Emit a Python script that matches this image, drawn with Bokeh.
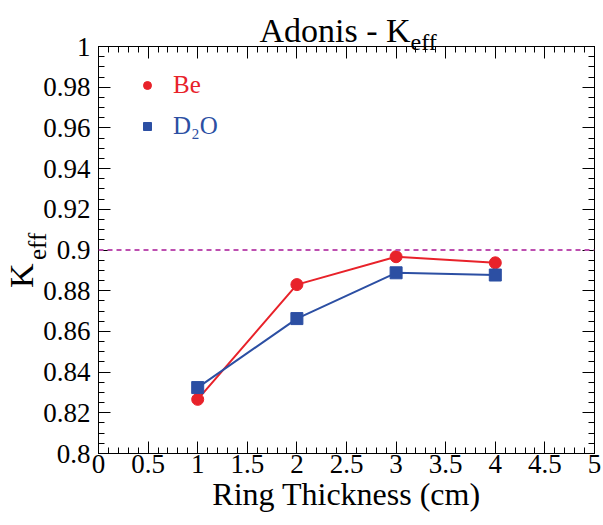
from bokeh.plotting import figure
from bokeh.models import (Range1d, LinearAxis, SingleIntervalTicker, FixedTicker,
                          CustomJSTickFormatter, Span, Title, Legend, LegendItem)
from bokeh.embed import file_html
from bokeh.resources import INLINE

# ---- data ----
thickness = [1, 2, 3, 4]
keff_be = [0.8266, 0.8830, 0.8967, 0.8937]
keff_d2o = [0.8324, 0.8663, 0.8888, 0.8877]
threshold = 0.9
x_min, x_max = 0, 5
y_min, y_max = 0.8, 1.0
x_tick_step = 0.5
y_tick_step = 0.02
series_names = ["Be", "D\u2082O"]
title_main, title_sub = "Adonis - K", "eff"
ylabel_main, ylabel_sub = "K", "eff"
ylabel_main_at, ylabel_sub_at = 0.8874, 0.9018   # where the y-label pieces sit
xlabel = "Ring Thickness (cm)"

FONT = "Liberation Serif"
RED = "#e8222a"
BLUE = "#2c4fa3"
MAGENTA = "#bd4fb0"

p = figure(width=603, height=525,
           x_range=Range1d(x_min, x_max), y_range=Range1d(y_min, y_max),
           output_backend="svg", toolbar_location=None,
           x_axis_location=None, y_axis_location=None,
           min_border_left=97, min_border_right=9,
           min_border_top=46, min_border_bottom=72)
p.grid.visible = False
p.outline_line_color = "black"
p.outline_line_width = 1
p.background_fill_color = "white"
p.border_fill_color = "white"

fmt = CustomJSTickFormatter(code="return String(Number(tick.toFixed(4)));")
blank = CustomJSTickFormatter(code="return '';")


def make_axis(step, nminor, labels):
    ax = LinearAxis(ticker=SingleIntervalTicker(interval=step, num_minor_ticks=nminor),
                    formatter=fmt if labels else blank)
    ax.axis_line_color = "black"
    ax.major_tick_line_color = "black"
    ax.minor_tick_line_color = "black"
    ax.major_tick_in = 12
    ax.major_tick_out = 0
    ax.minor_tick_in = 6
    ax.minor_tick_out = 0
    ax.major_label_text_font = FONT
    ax.major_label_text_color = "black"
    if labels:
        ax.major_label_text_font_size = "27px"
    else:
        ax.major_label_text_font_size = "1px"
        ax.major_label_standoff = 0
    return ax


def text_axis(at, text, size, standoff):
    """A line-less, tick-less axis whose single tick label carries a piece of text."""
    ax = LinearAxis(ticker=FixedTicker(ticks=[at], minor_ticks=[]),
                    formatter=CustomJSTickFormatter(code="return %r;" % text))
    ax.axis_line_color = None
    ax.major_tick_line_color = None
    ax.minor_tick_line_color = None
    ax.major_tick_in = 0
    ax.major_tick_out = 0
    ax.minor_tick_in = 0
    ax.minor_tick_out = 0
    ax.major_label_orientation = "vertical"
    ax.major_label_text_font = FONT
    ax.major_label_text_font_size = size
    ax.major_label_text_color = "black"
    ax.major_label_standoff = standoff
    return ax


xb = make_axis(x_tick_step, 5, True)
xb.major_label_standoff = 1
xb.axis_label = xlabel
xb.axis_label_text_font = FONT
xb.axis_label_text_font_size = "32px"
xb.axis_label_text_font_style = "normal"
xb.axis_label_text_color = "black"
xb.axis_label_standoff = 0
p.add_layout(xb, "below")

xt = make_axis(x_tick_step, 5, False)
p.add_layout(xt, "above")

yl = make_axis(y_tick_step, 4, True)
yl.major_label_standoff = 8
p.add_layout(yl, "left")

# y label "K_eff": subscript next to the tick labels, main letter outside it
p.add_layout(text_axis(ylabel_sub_at, ylabel_sub, "25px", -11), "left")
p.add_layout(text_axis(ylabel_main_at, ylabel_main, "34px", -19), "left")

yr = make_axis(y_tick_step, 4, False)
p.add_layout(yr, "right")

# title: subscript row first (closest to the frame), then main text
p.add_layout(Title(text=title_sub, align="left", offset=312, standoff=-16,
                   text_font=FONT, text_font_size="24px", text_font_style="normal",
                   text_color="black"), "above")
p.add_layout(Title(text=title_main, align="left", offset=161, standoff=-28,
                   text_font=FONT, text_font_size="34px", text_font_style="normal",
                   text_color="black"), "above")

# threshold line
p.add_layout(Span(location=threshold, dimension="width", line_color=MAGENTA,
                  line_width=2, line_dash="5 4"))

# series
p.line(thickness, keff_be, line_color=RED, line_width=2)
r_be = p.scatter(thickness, keff_be, marker="circle", size=12,
                 fill_color=RED, line_color=RED)
p.line(thickness, keff_d2o, line_color=BLUE, line_width=2)
r_d2o = p.scatter(thickness, keff_d2o, marker="square", size=12,
                  fill_color=BLUE, line_color=BLUE)


def make_legend(name, rend, color, loc):
    lg = Legend(items=[LegendItem(label=name, renderers=[rend])], location=loc)
    lg.border_line_alpha = 0
    lg.background_fill_alpha = 0
    lg.padding = 0
    lg.margin = 0
    lg.spacing = 0
    lg.glyph_width = 20
    lg.glyph_height = 20
    lg.label_height = 20
    lg.label_standoff = 16
    lg.label_text_font = FONT
    lg.label_text_font_size = "25px"
    lg.label_text_color = color
    return lg


p.add_layout(make_legend(series_names[0], r_be, RED, (39, 354)))
p.add_layout(make_legend(series_names[1], r_d2o, BLUE, (39, 313)))

open("out.html", "w").write(file_html(p, INLINE))
